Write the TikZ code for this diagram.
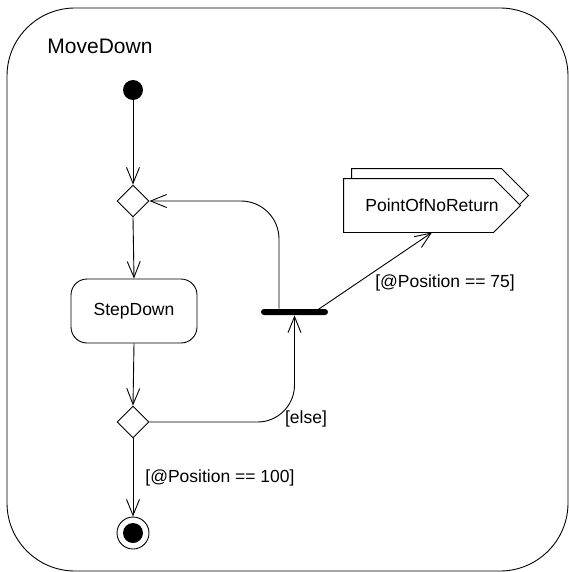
\documentclass[tikz,border=0pt]{standalone}
\usepackage{fontspec}
\setmainfont{Liberation Sans}
\usetikzlibrary{shapes.geometric, arrows.meta, positioning, calc}

\begin{document}
\begin{tikzpicture}[
  x=1pt, y=-1pt,
  line width=0.9pt,
  flow/.style={-{Straight Barb[length=16pt,width=13pt,line width=0.9pt]}},
  label/.style={font=\fontsize{17.5}{20}\selectfont, inner sep=0pt},
  decision/.style={diamond, draw, fill=white, minimum width=32pt,
    minimum height=32pt, inner sep=0pt},
  actionbox/.style={rectangle, rounded corners=16pt, draw, fill=white,
    minimum width=126pt, minimum height=64pt,
    font=\fontsize{17.5}{20}\selectfont}
]
  \useasboundingbox (0,0) rectangle (569,572);

  % activity frame
  \draw[rounded corners=68pt] (7,8) rectangle (568,571);
  \node[font=\fontsize{21}{24}\selectfont, inner sep=0pt] (title) at (100,46) {MoveDown};

  % nodes
  \node[circle, fill=black, minimum size=20pt, inner sep=0pt] (init) at (133,90) {};
  \node[decision] (merge) at (133,201) {};
  \node[actionbox] (step) at (134,311) {StepDown};
  \node[decision] (check) at (133,422) {};
  \node[circle, draw, minimum size=32pt, inner sep=0pt] (final) at (133,533) {};
  \fill (final) circle (10pt);
  \node[rectangle, fill=black, rounded corners=3pt, minimum width=67pt,
    minimum height=6pt, inner sep=0pt] (fork) at (294.5,312) {};

  % send signal, with its shadow copy behind
  \node[minimum width=176pt, minimum height=53pt, inner sep=0pt] (signal) at (432,205.5) {};
  \draw[fill=white]
    ($(signal.north west)+(8,-10)$) -- ($(signal.north east)+(-19,-10)$)
    -- ($(signal.east)+(8,-10)$) -- ($(signal.south east)+(-19,-10)$)
    -- ($(signal.south west)+(8,-10)$) -- cycle;
  \draw[fill=white]
    (signal.north west) -- ([xshift=-27pt]signal.north east) -- (signal.east)
    -- ([xshift=-27pt]signal.south east) -- (signal.south west) -- cycle;
  \node[label] (signaltext) at (signal.center) {PointOfNoReturn};

  % flows
  \draw[flow] (init) -- (merge.north);
  \draw[flow] (merge.south) -- (step.north);
  \draw[flow] (step.south) -- (check.north);
  \draw[flow] (check.south) -- (final.north);
  \draw[flow, rounded corners=37pt] (check.east) -| (fork.south);
  \draw[flow, rounded corners=38pt] ([xshift=-15.5pt]fork.north) |- (merge.east);
  \draw[flow] ([xshift=20pt]fork.center) -- (signal.south);

  % guards
  \node[label] (g100) at (220,478) {[@Position == 100]};
  \node[label] (gelse) at (306,419) {[else]};
  \node[label] (g75) at (445,283) {[@Position == 75]};
\end{tikzpicture}
\end{document}
